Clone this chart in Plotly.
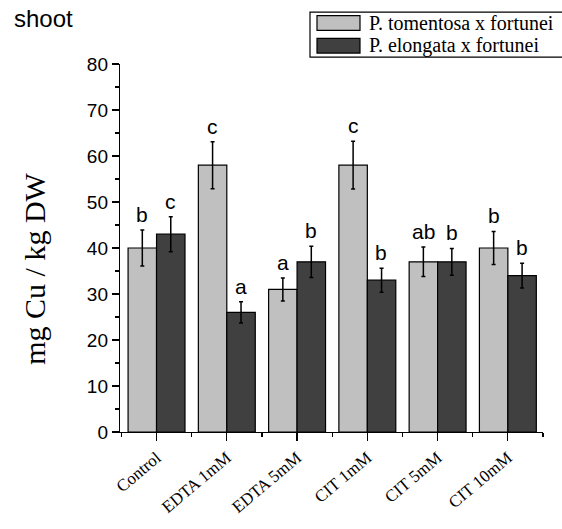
import plotly.graph_objects as go

categories = ["Control", "EDTA 1mM", "EDTA 5mM", "CIT 1mM", "CIT 5mM", "CIT 10mM"]
series_names = ["P. tomentosa x fortunei", "P. elongata x fortunei"]
tomentosa = [40, 58, 31, 58, 37, 40]
tomentosa_err = [3.9, 5.1, 2.5, 5.2, 3.2, 3.6]
elongata = [43, 26, 37, 33, 37, 34]
elongata_err = [3.8, 2.3, 3.4, 2.6, 2.9, 2.7]
letters_tomentosa = ["b", "c", "a", "c", "ab", "b"]
letters_elongata = ["c", "a", "b", "b", "b", "b"]
y_ticks = [0, 10, 20, 30, 40, 50, 60, 70, 80]

W, H = 562, 529
plot_left, plot_right, plot_top, plot_bottom = 120, 543, 64, 436
L, T = plot_left, plot_top
R = W - plot_right
B = H - plot_bottom
pw, ph = W - L - R, H - T - B

light = "#c0c0c0"
dark = "#404040"
xpos = list(range(len(categories)))

def px2paper_x(px):
    return (px - plot_left) / pw

def px2paper_y(py):
    return (plot_bottom - py) / ph

fig = go.Figure()
for name, vals, errs, col in [(series_names[0], tomentosa, tomentosa_err, light),
                              (series_names[1], elongata, elongata_err, dark)]:
    fig.add_trace(go.Bar(
        x=xpos, y=vals, name=name,
        marker=dict(color=col, line=dict(color="black", width=1.2)),
        error_y=dict(type="data", array=errs, visible=True, color="black",
                     thickness=1.5, width=2),
        showlegend=False, hoverinfo="skip",
    ))

off = 0.2
letter_font = dict(family="Liberation Sans, Arial", size=21, color="black")
anns = []
for i in xpos:
    anns.append(dict(x=i - off, y=tomentosa[i] + tomentosa_err[i], xref="x", yref="y",
                     text=letters_tomentosa[i], showarrow=False, yanchor="bottom",
                     yshift=2, font=letter_font))
    anns.append(dict(x=i + off, y=elongata[i] + elongata_err[i], xref="x", yref="y",
                     text=letters_elongata[i], showarrow=False, yanchor="bottom",
                     yshift=2, font=letter_font))

anns.append(dict(x=px2paper_x(12), y=px2paper_y(18), xref="paper", yref="paper",
                 text="shoot", showarrow=False, xanchor="left", yanchor="middle",
                 font=dict(family="Liberation Sans, Arial", size=24, color="black")))
anns.append(dict(x=px2paper_x(35), y=px2paper_y(271), xref="paper", yref="paper",
                 text="mg Cu / kg DW", showarrow=False, textangle=-90,
                 xanchor="center", yanchor="middle",
                 font=dict(family="Liberation Serif, Times New Roman", size=30, color="black")))

# legend box drawn by hand
shapes = [dict(type="rect", xref="paper", yref="paper",
               x0=px2paper_x(310), x1=px2paper_x(570), y0=px2paper_y(57), y1=px2paper_y(11.5),
               line=dict(color="black", width=1.2), fillcolor="white")]
for k, (col, yc) in enumerate([(light, 22.5), (dark, 45.5)]):
    shapes.append(dict(type="rect", xref="paper", yref="paper",
                       x0=px2paper_x(317), x1=px2paper_x(360),
                       y0=px2paper_y(yc + 7.5), y1=px2paper_y(yc - 7.5),
                       line=dict(color="black", width=1.2), fillcolor=col))
    anns.append(dict(x=px2paper_x(367), y=px2paper_y(yc), xref="paper", yref="paper",
                     text=series_names[k], showarrow=False, xanchor="left", yanchor="middle",
                     font=dict(family="Liberation Serif, Times New Roman", size=20, color="black")))

fig.update_layout(
    width=W, height=H,
    margin=dict(l=L, r=R, t=T, b=B, pad=0),
    paper_bgcolor="white", plot_bgcolor="white",
    barmode="group", bargap=0.19, bargroupgap=0,
    annotations=anns, shapes=shapes, hovermode=False,
    xaxis=dict(range=[-0.52, 5.5], tickmode="array", tickvals=xpos, ticktext=categories,
               tickangle=-40, showline=True, linecolor="black", linewidth=1.2,
               ticks="outside", ticklen=8, tickwidth=1.2, tickcolor="black",
               showgrid=False, zeroline=False,
               tickfont=dict(family="Liberation Serif, Times New Roman", size=17, color="black"),
               minor=dict(tickmode="linear", tick0=-0.5, dtick=1, ticks="outside",
                          ticklen=4, tickwidth=1.2, tickcolor="black")),
    yaxis=dict(range=[0, 80], tickmode="array", tickvals=y_ticks,
               showline=True, linecolor="black", linewidth=1.2,
               ticks="outside", ticklen=7, tickwidth=1.2, tickcolor="black",
               showgrid=False, zeroline=False,
               tickfont=dict(family="Liberation Sans, Arial", size=19, color="black"),
               minor=dict(tickmode="linear", tick0=0, dtick=5, ticks="outside",
                          ticklen=4, tickwidth=1.2, tickcolor="black")),
)

fig.write_html("out.html", config={"displayModeBar": False, "staticPlot": True},
               post_script="document.body.style.margin='0';document.body.style.overflow='hidden';")
